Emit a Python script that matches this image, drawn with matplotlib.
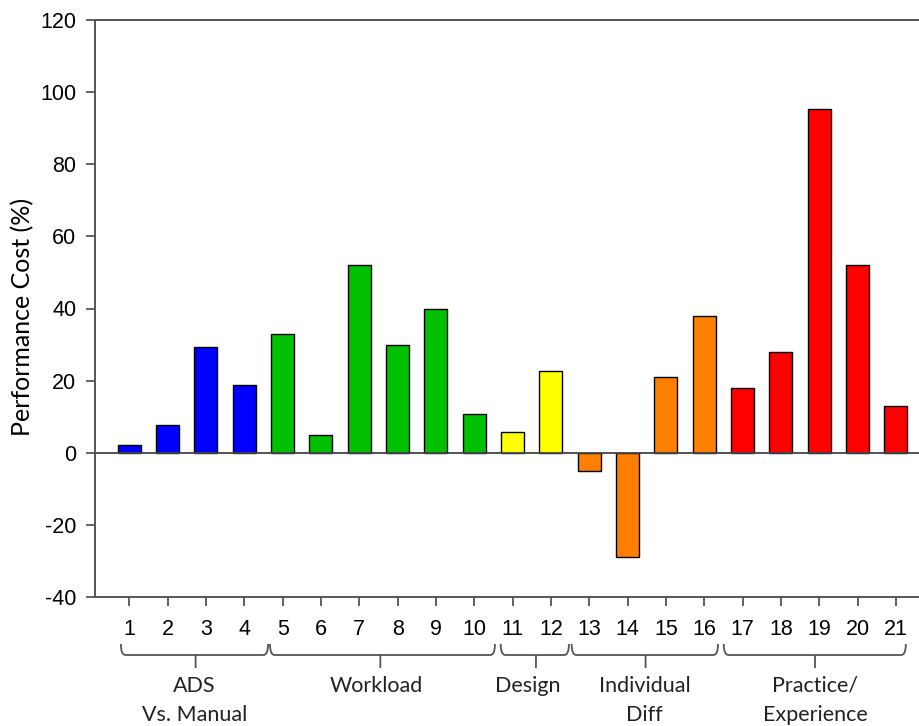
import matplotlib
matplotlib.use("Agg")
import matplotlib.pyplot as plt
from matplotlib.path import Path
from matplotlib.patches import PathPatch
from matplotlib.transforms import blended_transform_factory

plt.rcParams["axes.unicode_minus"] = False

# ---- data ----
bar_ids = list(range(1, 22))
values = [2.2, 7.8, 29.2, 18.9, 32.8, 5.0, 52.0, 30.0, 40.0, 10.8,
          5.8, 22.8, -5.0, -29.0, 21.0, 38.0, 18.0, 28.0, 95.2, 52.0, 13.0]
bar_colors = (["#0000FF"] * 4 + ["#00C000"] * 6 + ["#FFFF00"] * 2 +
              ["#FF8000"] * 4 + ["#FF0000"] * 5)
group_labels = ["ADS\nVs. Manual", "Workload", "Design", "Individual\nDiff",
                "Practice/\nExperience"]
y_ticks = [-40, -20, 0, 20, 40, 60, 80, 100, 120]

# ---- layout (bracket spans in x data units, label x centres) ----
bracket_spans = [(0.78, 4.62), (4.67, 10.54), (10.69, 12.47), (12.54, 16.36), (16.51, 21.26)]
bracket_centres = [2.73, 7.55, 11.61, 14.47, 18.89]
label_x = [2.7, 7.45, 11.4, 14.45, 18.9]

W, H = 920, 726
fig = plt.figure(figsize=(W / 100, H / 100), dpi=100)
ax = fig.add_axes([95 / W, 1 - 597 / H, 1 - 95 / W, (597 - 20) / H])

ax.bar(bar_ids, values, width=0.6, color=bar_colors, edgecolor="black",
       linewidth=1.0, zorder=3)
ax.axhline(0, color="#444444", linewidth=1.3, zorder=4)

ax.set_ylim(-40, 120)
ax.set_xlim(0.105, 21.63)
ax.set_yticks(y_ticks)
ax.set_xticks(bar_ids)
ax.set_xticklabels([str(i) for i in bar_ids])

spine_col = "#555555"
for s in ["left", "bottom", "top"]:
    ax.spines[s].set_color(spine_col)
    ax.spines[s].set_linewidth(1.4)
ax.spines["right"].set_visible(False)

ax.tick_params(axis="both", direction="out", length=6.5, width=1.3,
               color=spine_col, labelsize=15.5, labelcolor="black",
               labelfontfamily="Liberation Sans")
ax.tick_params(axis="y", pad=7)
ax.tick_params(axis="x", pad=9)

fig.text(23 / W, 1 - 317 / H, "Performance Cost (%)", rotation=90,
         ha="center", va="center", fontsize=18, family="Lato", color="black")

# brackets
trans = blended_transform_factory(ax.transData, fig.transFigure)
y_top = 1 - 644 / H
y_h = 1 - 655 / H
y_bot = 1 - 668 / H
r = 0.12
for (x0, x1), xc in zip(bracket_spans, bracket_centres):
    verts = [(x0, y_top), (x0, y_h), (x0 + r, y_h), (x1 - r, y_h), (x1, y_h), (x1, y_top),
             (xc, y_h), (xc, y_bot)]
    codes = [Path.MOVETO, Path.CURVE3, Path.CURVE3, Path.LINETO, Path.CURVE3, Path.CURVE3,
             Path.MOVETO, Path.LINETO]
    p = PathPatch(Path(verts, codes), transform=trans, facecolor="none",
                  edgecolor="#555555", linewidth=1.3, clip_on=False)
    fig.add_artist(p)

baselines = [692, 721]
for lab, lx in zip(group_labels, label_x):
    for line, by in zip(lab.split("\n"), baselines):
        ax.text(lx, 1 - by / H, line, transform=trans, ha="center", va="baseline",
                fontsize=15.5, family="Lato", color="#222222")

fig.savefig("out.png", dpi=100)
